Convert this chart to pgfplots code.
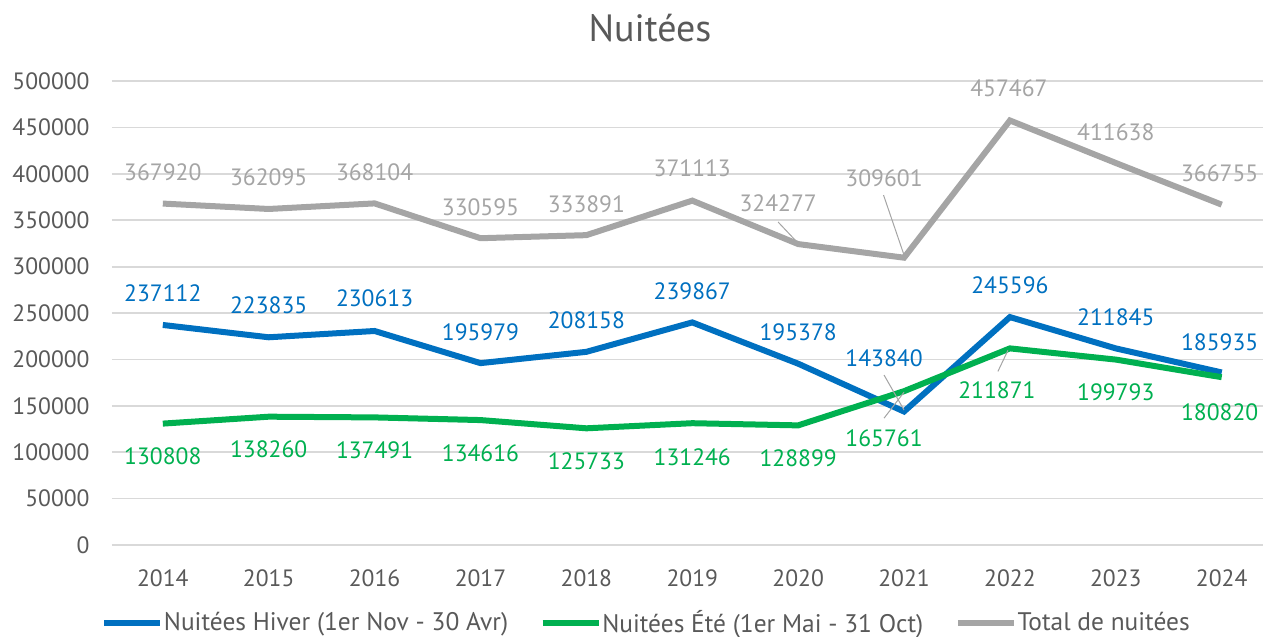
\documentclass[border=0pt]{standalone}
\usepackage{pgfplots}
\usepackage{pgfplotstable}
\pgfplotsset{compat=1.18}
\usepackage{fontspec}
\setmainfont{PT Sans}
\definecolor{cblue}{HTML}{0070C0}
\definecolor{cgreen}{HTML}{00B050}
\definecolor{cgray}{HTML}{A5A5A5}
\definecolor{ctext}{HTML}{595959}
\definecolor{cgrid}{HTML}{D9D9D9}

\pgfplotstableread{
x y dx dy
0 237112 0 16
1 223835 0 16.2
2 230613 0 16.5
3 195979 0 15.5
4 208158 0 15.9
5 239867 0 15.7
6 195378 0 15.9
7 143840 -10 26.8
8 245596 0 16
9 211845 0 15.7
10 185935 -1 15.3
}\hiver
\pgfplotstableread{
x y dx dy
0 130808 0 -16.2
1 138260 0 -16.2
2 137491 0 -16.3
3 134616 0 -16.5
4 125733 0 -16.4
5 131246 0 -16.9
6 128899 0 -16.3
7 165761 -10 -23.4
8 211871 -6.5 -20.8
9 199793 0 -16.2
10 180820 -1 -17.4
}\ete
\pgfplotstableread{
x y dx dy
0 367920 0 15.8
1 362095 0 16
2 368104 0 15.7
3 330595 0 15.6
4 333891 0 15.6
5 371113 0 16.3
6 324277 -10 20.5
7 309601 -10 39.9
8 457467 -0.5 16.2
9 411638 0 15.5
10 366755 -1 15.9
}\total

\begin{document}
\begin{tikzpicture}
\path[use as bounding box] (0,0) rectangle (632.5pt,318.5pt);
\node[font=\fontsize{19}{22}\selectfont, text=ctext] at (325pt,304.5pt) {Nuitées};
\begin{axis}[
  at={(56pt,46pt)}, anchor=south west,
  scale only axis, width=575.5pt, height=232pt,
  xmin=-0.48, xmax=10.39, ymin=0, ymax=500000,
  axis line style={draw=none},
  tick style={draw=none},
  ytick={0,50000,...,500000},
  ymajorgrids, grid style={cgrid, line width=0.9pt},
  scaled y ticks=false,
  yticklabel style={/pgf/number format/fixed, /pgf/number format/1000 sep={},
     /pgf/number format/assume math mode=true,
     font=\fontsize{11.8}{14}\selectfont, text=ctext, anchor=east, inner sep=0pt, xshift=-11pt},
  xtick=data,
  xticklabels={2014,2015,2016,2017,2018,2019,2020,2021,2022,2023,2024},
  xticklabel style={font=\fontsize{11.8}{14}\selectfont, text=ctext, anchor=center, inner sep=0pt, yshift=-16.5pt},
  clip=false,
  legend columns=3,
  legend style={draw=none, fill=none, at={(-0.0148,-0.168)}, anchor=west,
     font=\fontsize{12.7}{15}\selectfont, text=ctext,
     nodes={inner sep=0.3pt},
     /tikz/every even column/.append style={column sep=15.5pt}},
  legend image code/.code={\draw[#1, line width=3pt] (0pt,0pt) -- (28pt,0pt);},
  nodes near coords,
  point meta=explicit symbolic,
  visualization depends on={\thisrow{dx} \as \dx},
  visualization depends on={\thisrow{dy} \as \dy},
  every node near coord/.append style={anchor=center, inner sep=0pt, xshift=\dx pt, yshift=\dy pt, font=\fontsize{11.8}{14}\selectfont},
]
\addplot[cblue, line width=3pt, every node near coord/.append style={text=cblue}] table[x=x,y=y,meta=y] {\hiver};
\addlegendentry{Nuitées Hiver (1er Nov - 30 Avr)}
\addplot[cgreen, line width=3pt, every node near coord/.append style={text=cgreen}] table[x=x,y=y,meta=y] {\ete};
\addlegendentry{Nuitées Été (1er Mai - 31 Oct)}
\addplot[cgray, line width=3pt, every node near coord/.append style={text=cgray}] table[x=x,y=y,meta=y] {\total};
\addlegendentry{Total de nuitées}
\draw[cgray, line width=0.5pt] (axis cs:6,324277) ++(-10pt,11pt) -- ++(8.5pt,-9pt);
\draw[cgray, line width=0.5pt] (axis cs:7,309601) ++(-10.25pt,31.3pt) -- ++(10.25pt,-30pt);
\draw[cgray, line width=0.5pt] (axis cs:7,143840) ++(-10pt,18.25pt) -- ++(10pt,-17.5pt);
\draw[cgray, line width=0.5pt] (axis cs:7,165761) ++(-10pt,-13.5pt) -- ++(10pt,13pt);
\draw[cgray, line width=0.5pt] (axis cs:8,211871) ++(-6pt,-11.5pt) -- ++(5pt,10.5pt);
\end{axis}
\end{tikzpicture}
\end{document}
